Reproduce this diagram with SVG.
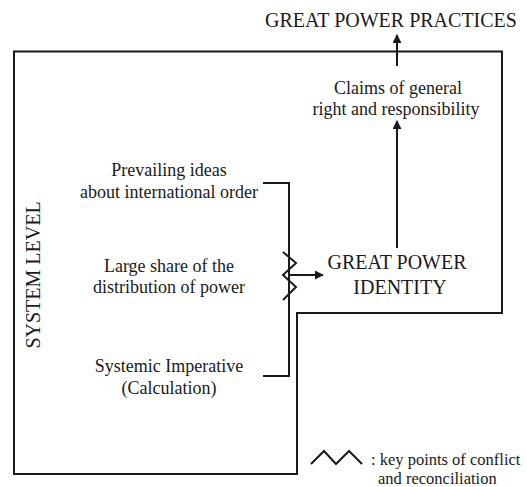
<svg xmlns="http://www.w3.org/2000/svg" width="527" height="487" viewBox="0 0 527 487">
  <style>
    .ln { fill: none; stroke: #1a1a1a; stroke-width: 2; }
    .s18 { font-size: 18px; }
    .s20 { font-size: 20px; }
    .s17 { font-size: 16.5px; text-anchor: start; }
  </style>
  <defs>
    <marker id="arrow" viewBox="0 0 10 10" refX="9" refY="5" markerWidth="9" markerHeight="9" markerUnits="userSpaceOnUse" orient="auto">
      <path d="M0,0 L10,5 L0,10 Z" fill="#1a1a1a"/>
    </marker>
  </defs>

  <rect width="527" height="487" fill="#ffffff"/>

  <g font-family="Liberation Serif, Times New Roman, DejaVu Serif, serif" fill="#1a1a1a" text-anchor="middle">
    <!-- system level boundary -->
    <g id="system-level">
      <path class="ln" d="M14,51.5 H502 V313 H297 V474 H14 Z"/>
      <text class="s20" transform="translate(40,275) rotate(-90)">SYSTEM LEVEL</text>
    </g>

    <g id="great-power-practices">
      <text class="s20" x="391" y="27">GREAT POWER PRACTICES</text>
    </g>

    <g id="claims">
      <text class="s18" x="398" y="94">Claims of general</text>
      <text class="s18" x="396" y="115">right and responsibility</text>
    </g>

    <g id="prevailing-ideas">
      <text class="s18" x="169" y="176">Prevailing ideas</text>
      <text class="s18" x="169" y="198">about international order</text>
    </g>

    <g id="distribution-of-power">
      <text class="s18" x="169" y="272">Large share of the</text>
      <text class="s18" x="169" y="293">distribution of power</text>
    </g>

    <g id="systemic-imperative">
      <text class="s18" x="169" y="372">Systemic Imperative</text>
      <text class="s18" x="169" y="394">(Calculation)</text>
    </g>

    <g id="great-power-identity">
      <text class="s20" x="397" y="269">GREAT POWER</text>
      <text class="s20" x="400" y="294">IDENTITY</text>
    </g>

    <g id="legend">
      <polyline class="ln" points="311,464 324,451 336,464 349,451 362,464"/>
      <text class="s17" x="371" y="465">: key points of conflict</text>
      <text class="s17" x="378" y="483.5">and reconciliation</text>
    </g>
  </g>

  <g id="connectors">
    <!-- bracket gathering the three system-level factors -->
    <path class="ln" d="M263,183 H289 V376 H263"/>
    <!-- points of conflict and reconciliation -->
    <polyline class="ln" points="283,252 296,263 283,275 296,287 283,300"/>
    <line class="ln" x1="289" y1="275" x2="323" y2="275" marker-end="url(#arrow)"/>
    <line class="ln" x1="397" y1="248" x2="397" y2="121" marker-end="url(#arrow)"/>
    <line class="ln" x1="397" y1="66" x2="397" y2="35" marker-end="url(#arrow)"/>
  </g>
</svg>
